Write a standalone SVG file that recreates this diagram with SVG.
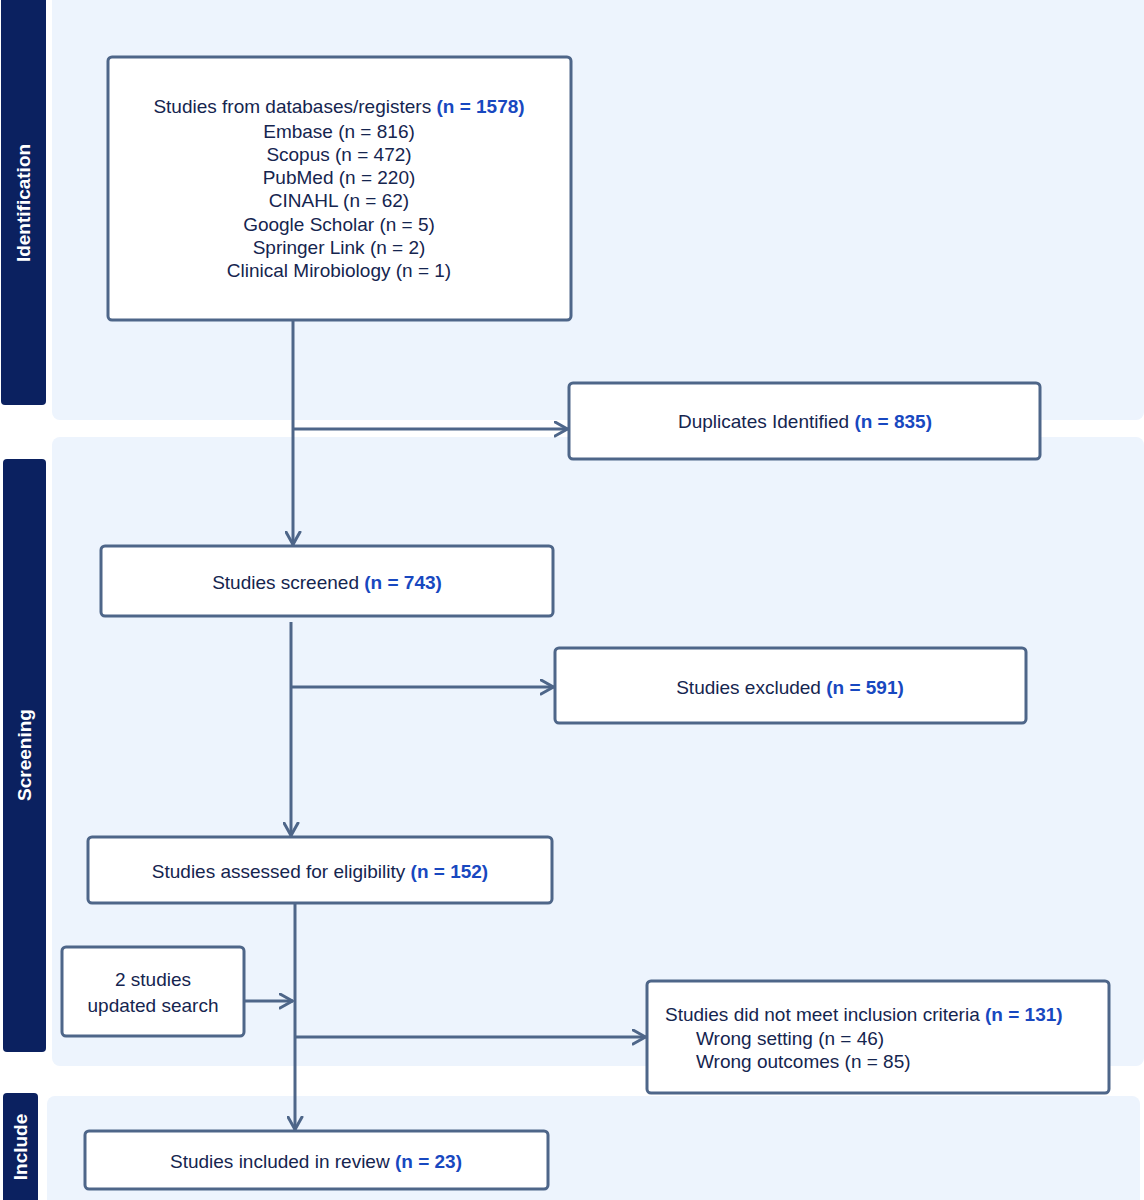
<svg xmlns="http://www.w3.org/2000/svg" width="1144" height="1200" viewBox="0 0 1144 1200">
<style>
.band{fill:#EDF4FD;}
.bar{fill:#0B2160;}
.bartxt{fill:#FFFFFF;font-family:"Liberation Sans",Arial,sans-serif;font-weight:bold;font-size:19px;text-anchor:middle;}
.box{fill:#FFFFFF;stroke:#4E6689;stroke-width:3;}
.t{fill:#15254F;font-family:"Liberation Sans",Arial,sans-serif;font-size:19px;}
.c{text-anchor:middle;}
.n{fill:#1848C0;font-weight:bold;}
.ln{fill:none;stroke:#4E6689;stroke-width:3;}
</style>
<defs>
<marker id="ah" viewBox="0 0 16 17" refX="14.5" refY="8.5" markerWidth="16" markerHeight="17" markerUnits="userSpaceOnUse" orient="auto">
<path d="M1.5,1.5 L14,8.5 L1.5,15.5" fill="none" stroke="#4E6689" stroke-width="3" stroke-linecap="round" stroke-linejoin="round"/>
</marker>
</defs>
<rect width="1144" height="1200" fill="#FFFFFF"/>
<g id="bands">
<rect class="band" x="52" y="-10" width="1092" height="430" rx="8"/>
<rect class="band" x="52" y="437" width="1092" height="629" rx="8"/>
<rect class="band" x="47" y="1096" width="1093" height="120" rx="8"/>
</g>
<g id="lane-identification">
<rect class="bar" x="1" y="-10" width="45" height="415" rx="4"/>
<text class="bartxt" transform="translate(30,203) rotate(-90)">Identification</text>
</g>
<g id="lane-screening">
<rect class="bar" x="3" y="459" width="43" height="593" rx="4"/>
<text class="bartxt" transform="translate(31,755) rotate(-90)">Screening</text>
</g>
<g id="lane-include">
<rect class="bar" x="3" y="1093" width="35" height="120" rx="4"/>
<text class="bartxt" transform="translate(27,1147) rotate(-90)">Include</text>
</g>
<g id="connectors">
<line class="ln" x1="293" y1="320" x2="293" y2="545" marker-end="url(#ah)"/>
<line class="ln" x1="293" y1="429" x2="568" y2="429" marker-end="url(#ah)"/>
<line class="ln" x1="291" y1="622" x2="291" y2="836" marker-end="url(#ah)"/>
<line class="ln" x1="291" y1="687" x2="554" y2="687" marker-end="url(#ah)"/>
<line class="ln" x1="295" y1="903" x2="295" y2="1130" marker-end="url(#ah)"/>
<line class="ln" x1="295" y1="1037" x2="646" y2="1037" marker-end="url(#ah)"/>
<line class="ln" x1="244" y1="1001" x2="293" y2="1001" marker-end="url(#ah)"/>
</g>
<g id="node-databases">
<rect class="box" x="108" y="57" width="463" height="263" rx="4"/>
<text class="t c" x="339" y="113">Studies from databases/registers <tspan class="n">(n = 1578)</tspan></text>
<text class="t c" x="339" y="138">Embase (n = 816)</text>
<text class="t c" x="339" y="161">Scopus (n = 472)</text>
<text class="t c" x="339" y="184">PubMed (n = 220)</text>
<text class="t c" x="339" y="207">CINAHL (n = 62)</text>
<text class="t c" x="339" y="231">Google Scholar (n = 5)</text>
<text class="t c" x="339" y="254">Springer Link (n = 2)</text>
<text class="t c" x="339" y="277">Clinical Mirobiology (n = 1)</text>
</g>
<g id="node-duplicates">
<rect class="box" x="569" y="383" width="471" height="76" rx="4"/>
<text class="t c" x="805" y="428">Duplicates Identified <tspan class="n">(n = 835)</tspan></text>
</g>
<g id="node-screened">
<rect class="box" x="101" y="546" width="452" height="70" rx="4"/>
<text class="t c" x="327" y="589">Studies screened <tspan class="n">(n = 743)</tspan></text>
</g>
<g id="node-excluded">
<rect class="box" x="555" y="648" width="471" height="75" rx="4"/>
<text class="t c" x="790" y="694">Studies excluded <tspan class="n">(n = 591)</tspan></text>
</g>
<g id="node-eligibility">
<rect class="box" x="88" y="837" width="464" height="66" rx="4"/>
<text class="t c" x="320" y="878">Studies assessed for eligibility <tspan class="n">(n = 152)</tspan></text>
</g>
<g id="node-updated">
<rect class="box" x="62" y="947" width="182" height="89" rx="4"/>
<text class="t c" x="153" y="986">2 studies</text>
<text class="t c" x="153" y="1012">updated search</text>
</g>
<g id="node-notmeet">
<rect class="box" x="647" y="981" width="462" height="112" rx="4"/>
<text class="t" x="665" y="1021">Studies did not meet inclusion criteria <tspan class="n">(n = 131)</tspan></text>
<text class="t" x="696" y="1045">Wrong setting (n = 46)</text>
<text class="t" x="696" y="1068">Wrong outcomes (n = 85)</text>
</g>
<g id="node-included">
<rect class="box" x="85" y="1131" width="463" height="58" rx="4"/>
<text class="t c" x="316" y="1168">Studies included in review <tspan class="n">(n = 23)</tspan></text>
</g>
</svg>
